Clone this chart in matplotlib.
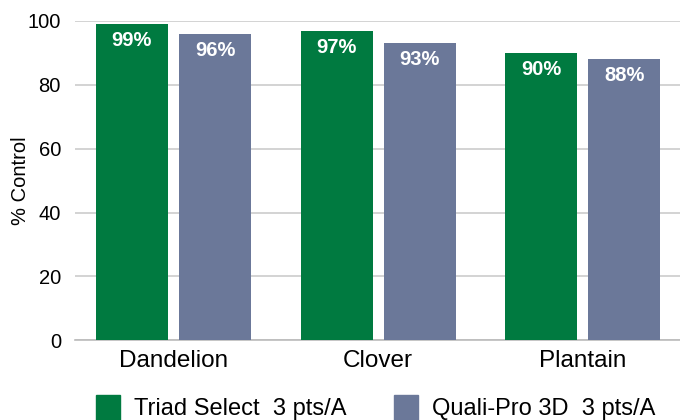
import numpy as np
import matplotlib.pyplot as plt
from matplotlib.patches import Patch

categories = ["Dandelion", "Clover", "Plantain"]
triad = [99, 97, 90]
quali = [96, 93, 88]
series_names = ["Triad Select  3 pts/A", "Quali-Pro 3D  3 pts/A"]
yticks = [0, 20, 40, 60, 80, 100]

green = "#007A40"
slate = "#6B7899"

plt.rcParams['font.family'] = ['Liberation Sans', 'DejaVu Sans']

fig = plt.figure(figsize=(6.8, 4.2), dpi=100)
ax = fig.add_axes([0.11, 0.19, 0.89, 0.76])

x = np.arange(len(categories))
w = 0.352
off = 0.203
b1 = ax.bar(x - off, triad, w, color=green, zorder=3)
b2 = ax.bar(x + off, quali, w, color=slate, zorder=3)

# value labels inside the top of each bar
for bars, vals in [(b1, triad), (b2, quali)]:
    for rect, v in zip(bars, vals):
        ax.annotate(f"{v}%", (rect.get_x() + rect.get_width() / 2, v),
                    xytext=(0, -5), textcoords="offset points",
                    ha="center", va="top", color="white",
                    fontsize=14.5, fontweight="bold", zorder=4)

ax.set_xlim(-0.482, 2.475)
ax.set_ylim(0, 100)
ax.set_yticks(yticks)
ax.set_xticks(x)
ax.set_xticklabels(categories, fontsize=17.5)
ax.tick_params(axis="y", length=0, labelsize=14.5, pad=10)
ax.tick_params(axis="x", length=0, pad=7)
ax.yaxis.grid(True, color="#cccccc", linewidth=1.2, zorder=0)
for s in ["top", "right", "left"]:
    ax.spines[s].set_visible(False)
ax.spines["bottom"].set_color("#bbbbbb")
ax.spines["bottom"].set_linewidth(1.2)
ax.set_ylabel("% Control", fontsize=14.5)
ax.yaxis.set_label_coords(-0.074, 0.5)

handles = [Patch(color=green), Patch(color=slate)]
fig.legend(handles, series_names, loc="center left", bbox_to_anchor=(0.128, 0.03),
           ncol=2, frameon=False, fontsize=17, handlelength=1.0, handleheight=1.3,
           handletextpad=0.6, columnspacing=2.0, borderaxespad=0)

fig.savefig("out.png", dpi=100)
